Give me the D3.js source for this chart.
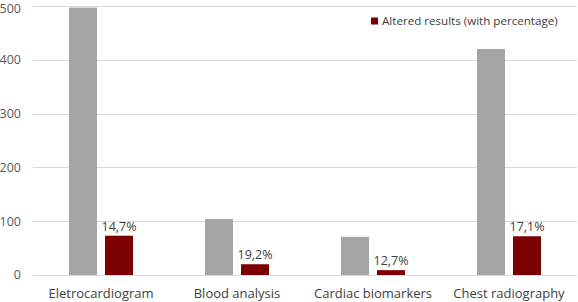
<!DOCTYPE html>
<html>
<head>
<meta charset="utf-8">
<script src="https://cdn.jsdelivr.net/npm/d3@7"></script>
<style>
  body { margin: 0; background: #fff; }
  text { font-family: "Open Sans", "Noto Sans", sans-serif; }
</style>
</head>
<body>
<div id="chart"></div>
<script>
const categories = ["Eletrocardiogram", "Blood analysis", "Cardiac biomarkers", "Chest radiography"];
const totals = [497, 104, 71, 420];
const altered = [73, 20, 9, 72];
const percentLabels = ["14,7%", "19,2%", "12,7%", "17,1%"];
const yTicks = [0, 100, 200, 300, 400, 500];
const legendLabel = "Altered results (with percentage)";

const width = 578, height = 302;
const margin = { top: 6, right: 1, bottom: 27, left: 33 };

const svg = d3.select("#chart").append("svg")
    .attr("width", width)
    .attr("height", height);

const x = d3.scaleBand()
    .domain(categories)
    .range([margin.left, width - margin.right])
    .paddingInner(0).paddingOuter(0);

const bw = 28, gap = 8;

const y = d3.scaleLinear()
    .domain([0, 500])
    .range([height - margin.bottom, margin.top]);

// gridlines
svg.append("g")
    .selectAll("line")
    .data(yTicks)
    .enter()
    .append("line")
    .attr("x1", margin.left)
    .attr("x2", width - margin.right)
    .attr("y1", d => Math.round(y(d)) + 0.5)
    .attr("y2", d => Math.round(y(d)) + 0.5)
    .attr("stroke", "#d9d9d9")
    .attr("stroke-width", 1);

// y labels (top one nudged down so it is not clipped)
svg.append("g")
    .selectAll("text")
    .data(yTicks)
    .enter()
    .append("text")
    .attr("x", 21)
    .attr("y", d => Math.max(y(d), 9))
    .attr("dy", "0.35em")
    .attr("text-anchor", "end")
    .attr("font-size", 12.5)
    .attr("fill", "#595959")
    .text(d => d);

const center = c => x(c) + x.bandwidth() / 2;

// gray bars
svg.append("g")
    .selectAll("rect")
    .data(categories)
    .enter()
    .append("rect")
    .attr("x", c => center(c) - gap / 2 - bw)
    .attr("width", bw)
    .attr("y", (c, i) => y(totals[i]))
    .attr("height", (c, i) => y(0) - y(totals[i]))
    .attr("fill", "#a5a5a5");

// red bars
svg.append("g")
    .selectAll("rect")
    .data(categories)
    .enter()
    .append("rect")
    .attr("x", c => center(c) + gap / 2)
    .attr("width", bw)
    .attr("y", (c, i) => y(altered[i]))
    .attr("height", (c, i) => y(0) - y(altered[i]))
    .attr("fill", "#7b0000");

// percent labels
svg.append("g")
    .selectAll("text")
    .data(categories)
    .enter()
    .append("text")
    .attr("x", c => center(c) + gap / 2 + bw / 2)
    .attr("y", (c, i) => y(altered[i]) - 5)
    .attr("text-anchor", "middle")
    .attr("font-size", 12.5)
    .attr("fill", "#404040")
    .text((c, i) => percentLabels[i]);

// category labels
svg.append("g")
    .selectAll("text")
    .data(categories)
    .enter()
    .append("text")
    .attr("x", c => center(c))
    .attr("y", 298)
    .attr("text-anchor", "middle")
    .attr("font-size", 13)
    .attr("fill", "#404040")
    .text(c => c);

// legend
svg.append("rect")
    .attr("x", 371).attr("y", 17.5)
    .attr("width", 7).attr("height", 7)
    .attr("fill", "#7b0000");
svg.append("text")
    .attr("x", 382).attr("y", 21)
    .attr("dy", "0.35em")
    .attr("font-size", 11.6)
    .attr("fill", "#404040")
    .text(legendLabel);
</script>
</body>
</html>
